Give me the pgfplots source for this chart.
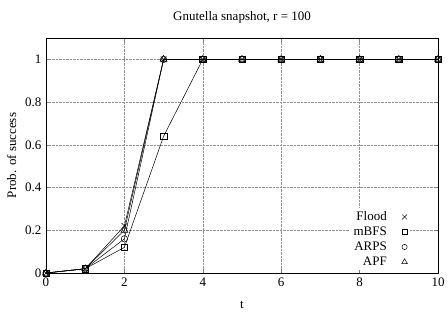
\documentclass[border=0pt]{standalone}
\usepackage{fontspec}
\setmainfont{Liberation Serif}
\usepackage{pgfplots}
\pgfplotsset{compat=1.18}
\begin{document}
\fontsize{13}{15}\selectfont
\begin{tikzpicture}
\useasboundingbox (-46pt,-54pt) rectangle (402pt,273pt);
\begin{axis}[
  scale only axis, width=392pt, height=235pt,
  at={(0pt,0pt)}, anchor=south west,
  xmin=0, xmax=10, ymin=0, ymax=1.1,
  xtick={0,2,4,6,8,10}, ytick={0,0.2,0.4,0.6,0.8,1},
  yticklabels={0,0.2,0.4,0.6,0.8,1},
  /pgf/number format/assume math mode=true,
  tick label style={font=\fontsize{13}{15}\selectfont},
  label style={font=\fontsize{13}{15}\selectfont},
  xlabel style={yshift=-6pt},
  title style={font=\fontsize{13}{15}\selectfont, yshift=4pt},
  tick align=inside, major tick length=4pt,
  grid=major, grid style={densely dotted, gray!85, line width=0.4pt},
  axis line style={line width=0.8pt},
  title={Gnutella snapshot, r = 100},
  xlabel={t}, ylabel={Prob. of success},
  every axis plot/.append style={black, line width=0.5pt, mark size=3.5pt, mark options={solid}},
  legend style={at={(0.93,0.01)}, anchor=south east, draw=none, fill=white, row sep=2pt, column sep=14pt,
    font=\fontsize{13}{15}\selectfont, nodes={inner sep=1pt, text height=9pt, text depth=2pt}},
  legend cell align=right, legend plot pos=right,
]
\addlegendimage{only marks, black, mark=x, mark size=3.5pt}
\addlegendentry{Flood}
\addlegendimage{only marks, black, mark=square, mark size=2.6pt}
\addlegendentry{mBFS}
\addlegendimage{only marks, black, mark=o, mark size=2.6pt}
\addlegendentry{ARPS}
\addlegendimage{only marks, black, mark=triangle, mark size=3.2pt}
\addlegendentry{APF}
\addplot[forget plot, mark=x, mark size=4pt] coordinates {(0,0)(1,0.02)(2,0.22)(3,1)(4,1)(5,1)(6,1)(7,1)(8,1)(9,1)(10,1)};
\addplot[forget plot, mark=square, mark size=3.2pt] coordinates {(0,0)(1,0.02)(2,0.12)(3,0.64)(4,1)(5,1)(6,1)(7,1)(8,1)(9,1)(10,1)};
\addplot[forget plot, mark=o, mark size=3.2pt] coordinates {(0,0)(1,0.02)(2,0.16)(3,1)(4,1)(5,1)(6,1)(7,1)(8,1)(9,1)(10,1)};
\addplot[forget plot, mark=triangle, mark size=4pt] coordinates {(0,0)(1,0.02)(2,0.2)(3,1)(4,1)(5,1)(6,1)(7,1)(8,1)(9,1)(10,1)};
\end{axis}
\end{tikzpicture}
\end{document}
